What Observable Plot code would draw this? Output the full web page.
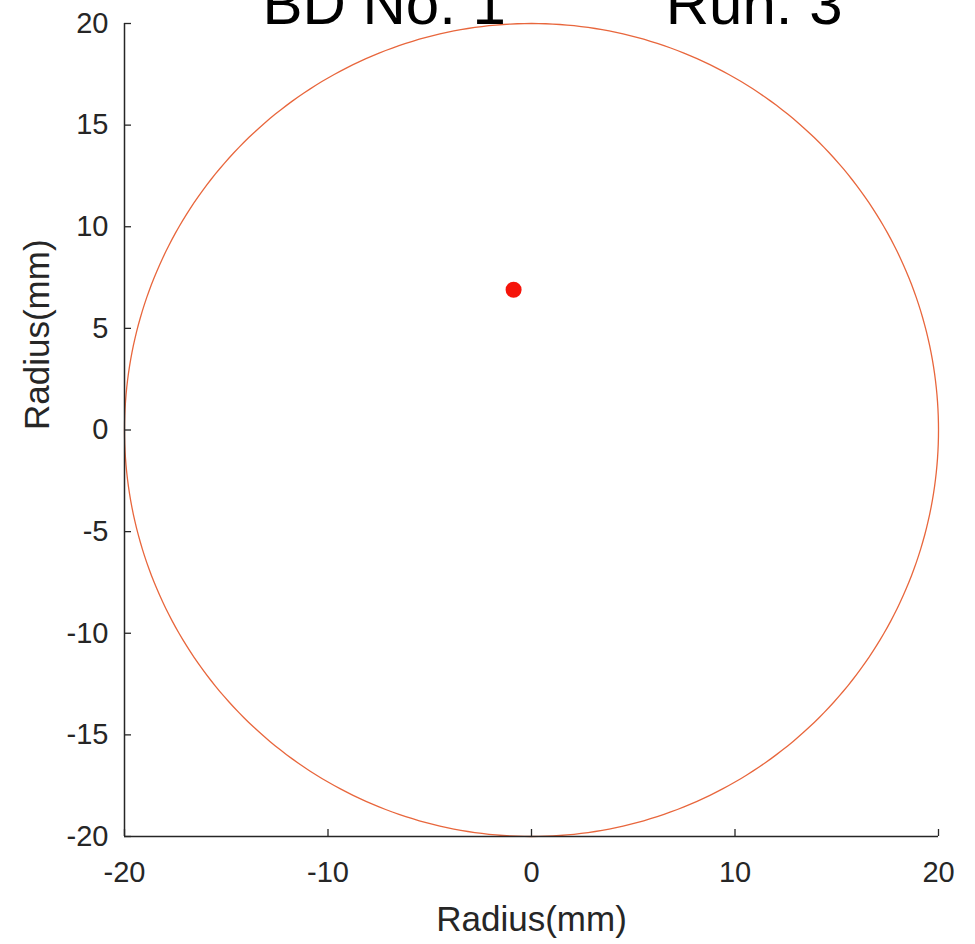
<!DOCTYPE html>
<html>
<head>
<meta charset="utf-8">
<script src="https://cdn.jsdelivr.net/npm/d3@7"></script>
<script src="https://cdn.jsdelivr.net/npm/@observablehq/plot@0.6"></script>
<style>
  html, body { margin: 0; padding: 0; background: white; }
  #chart { width: 975px; height: 944px; overflow: hidden; }
</style>
</head>
<body>
<div id="chart"></div>
<script>
// ---- data ----
const titleLeft = "BD No. 1";
const titleRight = "Run: 3";
const xLabel = "Radius(mm)";
const yLabel = "Radius(mm)";
const xTicks = [-20, -10, 0, 10, 20];
const yTicks = [-20, -15, -10, -5, 0, 5, 10, 15, 20];
const boundaryRadius = [20];          // mm, circular boundary
const boundaryCenter = [0, 0];        // mm
const pointX = [-0.88];               // mm
const pointY = [6.9];                 // mm

// boundary outline sampled from its radius
const angles = d3.range(0, 361, 1);
const boundary = angles.map(a => ({
  x: boundaryCenter[0] + boundaryRadius[0] * Math.cos(a * Math.PI / 180),
  y: boundaryCenter[1] + boundaryRadius[0] * Math.sin(a * Math.PI / 180)
}));
const points = pointX.map((x, i) => ({x, y: pointY[i]}));

const W = 975, H = 944;
const mL = 124, mR = 37, mT = 23, mB = 108;
const innerH = H - mT - mB, innerW = W - mL - mR;
const axisColor = "#262626";
const font = "'Liberation Sans', Arial, Helvetica, sans-serif";
const fmt = d => String(d);  // hyphen-minus like the reference

const chart = Plot.plot({
  width: W,
  height: H,
  marginLeft: mL,
  marginRight: mR,
  marginTop: mT,
  marginBottom: mB,
  style: {fontFamily: font, background: "white", color: axisColor},
  x: {domain: [-20, 20], label: null},
  y: {domain: [-20, 20], label: null},
  marks: [
    // boundary circle
    Plot.line(boundary, {x: "x", y: "y", stroke: "#e8663c", strokeWidth: 1.3, curve: "linear"}),
    // point
    Plot.dot(points, {x: "x", y: "y", r: 8, fill: "#f5140a", stroke: "none"}),
    // axis lines
    Plot.ruleX([-20], {stroke: axisColor, strokeWidth: 1.5}),
    Plot.ruleY([-20], {stroke: axisColor, strokeWidth: 1.5}),
    // inward ticks
    Plot.tickX(xTicks, {x: d => d, stroke: axisColor, strokeWidth: 1.3, insetTop: innerH - 7}),
    Plot.tickY(yTicks, {y: d => d, stroke: axisColor, strokeWidth: 1.3, insetRight: innerW - 7}),
    // tick labels
    Plot.axisX(xTicks, {tickSize: 0, tickPadding: 25, fontSize: 29, fill: axisColor, label: null, tickFormat: fmt}),
    Plot.axisY(yTicks, {tickSize: 0, tickPadding: 16, fontSize: 29, fill: axisColor, label: null, tickFormat: fmt}),
    // axis titles
    Plot.text([xLabel], {frameAnchor: "bottom", dy: 94, text: d => d, fontSize: 35, fill: axisColor, lineAnchor: "bottom"}),
    Plot.text([yLabel], {frameAnchor: "left", dx: -87, text: d => d, fontSize: 35, fill: axisColor, rotate: -90}),
    // title
    Plot.text([titleLeft], {frameAnchor: "top-left", dx: 138, dy: 0, text: d => d, fontSize: 60, fill: "black", textAnchor: "start", lineAnchor: "bottom"}),
    Plot.text([titleRight], {frameAnchor: "top-right", dx: -96, dy: 0, text: d => d, fontSize: 60, fill: "black", textAnchor: "end", lineAnchor: "bottom"})
  ]
});
document.getElementById("chart").appendChild(chart);
</script>
</body>
</html>
